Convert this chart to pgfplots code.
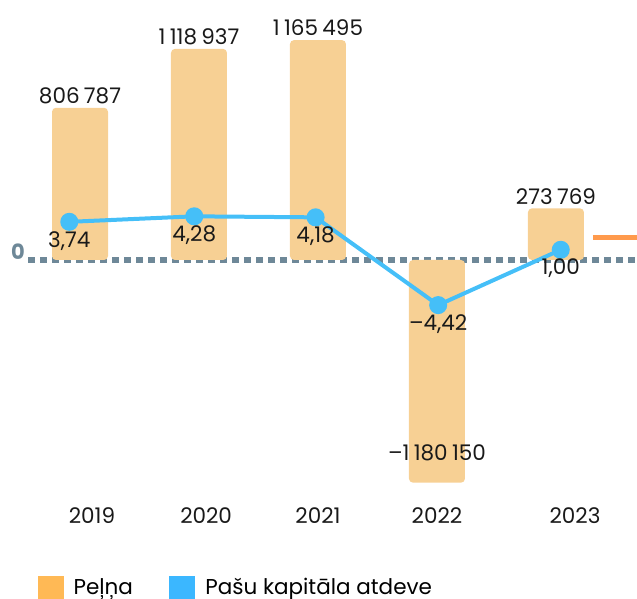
\documentclass[border=0pt]{standalone}
\usepackage{pgfplots}
\pgfplotsset{compat=1.18}
\usepackage{fontspec}
\setmainfont{Poppins}

\definecolor{barfill}{HTML}{F7D094}
\definecolor{legorange}{HTML}{FFB955}
\definecolor{roeblue}{HTML}{45BFF8}
\definecolor{legblue}{HTML}{3BB7FF}
\definecolor{zerogray}{HTML}{6E8898}
\definecolor{orangedash}{HTML}{FF9A4C}
\newcommand{\s}{\hspace{0.2em}}

\pgfplotsset{
  common/.style={
    scale only axis, width=609pt, height=500pt,
    at={(28pt,98pt)}, anchor=south west,
    xmin=-0.437, xmax=4.681,
    clip=false,
    axis line style={draw=none},
    major tick length=0pt,
    font=\fontsize{21.5}{25}\selectfont,
  },
}

\begin{document}
\begin{tikzpicture}
\begin{axis}[common,
    ymin=-1272000, ymax=1378000,
    ytick={0}, yticklabels={0},
    yticklabel style={text=zerogray, font=\fontsize{21}{25}\selectfont\bfseries, inner sep=3pt, yshift=8pt},
    xtick={0.10,1.06,2.00,3.00,4.16},
    xticklabels={2019,2020,2021,2022,2023},
    xticklabel style={text=black!90, yshift=-4pt},
]
    % zero line
    \addplot[zerogray, line width=6pt, dash pattern=on 6.5pt off 5.5pt]
        coordinates {(-0.437,0) (4.681,0)};
    % profit (Pelna)
    \addplot[ybar, bar width=56pt, bar shift=0pt, fill=barfill, draw=none, rounded corners=4pt,
        point meta=explicit symbolic, nodes near coords,
        every node near coord/.append style={anchor=south, inner sep=4pt, text=black!90, rounded corners=0pt}]
        coordinates {
            (0,806787) [806\s787]
            (1,1118937) [1\s118\s937]
            (2,1165495) [1\s165\s495]
            (4,273769) [273\s769]
        };
    \addplot[ybar, bar width=56pt, bar shift=0pt, fill=barfill, draw=none, rounded corners=4pt,
        point meta=explicit symbolic, nodes near coords,
        every node near coord/.append style={anchor=south, yshift=18pt, text=black!90, rounded corners=0pt}]
        coordinates {
            (3,-1180150) [\textendash1\s180\s150]
        };
\end{axis}
\begin{axis}[common,
    ymin=-23.52, ymax=25.48,
    xtick=\empty, ytick=\empty,
    legend style={at={(axis description cs:0.0164,-0.174)}, anchor=west, draw=none, fill=none,
        legend columns=2, inner sep=0pt, font=\fontsize{21.5}{25}\selectfont,
        /tikz/column 1/.style={column sep=8pt},
        /tikz/column 2/.style={column sep=34pt},
        /tikz/column 3/.style={column sep=9pt}},
]
    \addlegendimage{legend image code/.code={\fill[legorange] (0pt,-11pt) rectangle (25pt,11pt);}}
    \addlegendentry{Peļņa}
    \addlegendimage{legend image code/.code={\fill[legblue] (0pt,-11pt) rectangle (25pt,11pt);}}
    \addlegendentry{Pašu kapitāla atdeve}
    \addplot[orangedash, line width=5pt, forget plot] coordinates {(4.31,2.25) (4.681,2.25)};
    % return on equity
    \addplot[roeblue, line width=4pt, mark=*, mark size=7pt, mark options={fill=roeblue, draw=none},
        point meta=explicit symbolic, nodes near coords, forget plot,
        every node near coord/.append style={anchor=north, yshift=-4pt, text=black!90}]
        coordinates {
            (-0.09,3.74) [3,74]
            (0.96,4.28) [4,28]
            (1.98,4.18) [4,18]
            (3.01,-4.42) [\textendash4,42]
            (4.04,1.00) [1,00]
        };
\end{axis}
\pgfresetboundingbox
\path (0,0) rectangle (637pt,598pt);
\end{tikzpicture}
\end{document}
